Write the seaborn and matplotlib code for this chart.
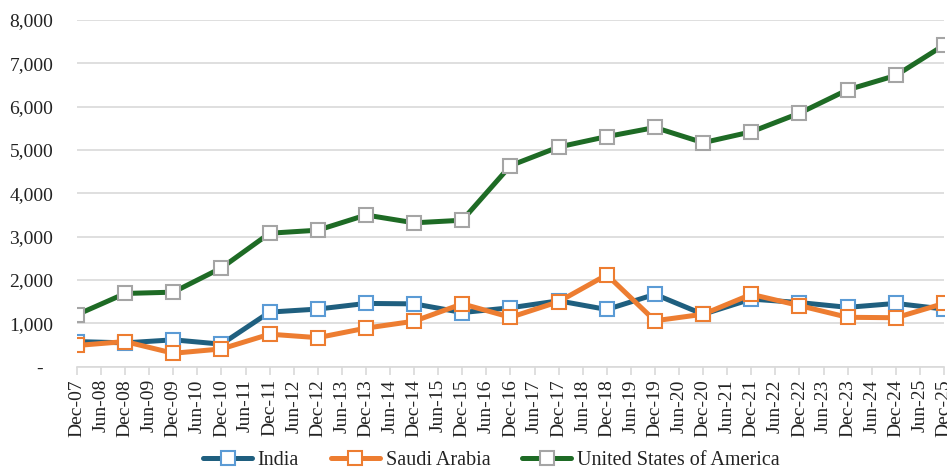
import matplotlib
matplotlib.use("Agg")
import matplotlib.pyplot as plt
import seaborn as sns
import pandas as pd
import numpy as np

# ---- data ----
categories = []
for yr in range(7, 26):
    categories.append(f"Dec-{yr:02d}")
    if yr < 25:
        categories.append(f"Jun-{yr+1:02d}")

dec_labels = [f"Dec-{yr:02d}" for yr in range(7, 26)]

india = [580, 550, 620, 520, 1260, 1330, 1460, 1450, 1250, 1360,
         1520, 1320, 1670, 1210, 1560, 1480, 1370, 1460, 1330]
saudi = [490, 580, 310, 410, 750, 670, 890, 1050, 1450, 1140,
         1500, 2120, 1060, 1210, 1670, 1410, 1140, 1130, 1460]
usa = [1200, 1690, 1720, 2280, 3080, 3150, 3500, 3320, 3380, 4640,
       5070, 5310, 5520, 5170, 5420, 5850, 6390, 6720, 7420]

series_names = ["India", "Saudi Arabia", "United States of America"]
y_ticks = [0, 1000, 2000, 3000, 4000, 5000, 6000, 7000, 8000]

# ---- styling ----
line_colors = {"India": "#1F5F7F", "Saudi Arabia": "#ED7D31",
               "United States of America": "#1E6B25"}
edge_colors = {"India": "#5B9BD5", "Saudi Arabia": "#ED7D31",
               "United States of America": "#A5A5A5"}

sns.set_theme(style="white")
plt.rcParams["font.family"] = ["Liberation Serif", "DejaVu Serif"]

fig = plt.figure(figsize=(9.47, 4.70), dpi=100)
ax = fig.add_axes([0.0813, 0.2198, 0.9155, 0.7376])

pos_lookup = {c: i for i, c in enumerate(categories)}
df = pd.DataFrame({
    "pos": [pos_lookup[d] for d in dec_labels] * 3,
    "value": india + saudi + usa,
    "series": sum([[n] * len(dec_labels) for n in series_names], []),
})

for name in series_names:
    sub = df[df["series"] == name]
    sns.lineplot(data=sub, x="pos", y="value", ax=ax, color=line_colors[name],
                 linewidth=3.6, marker="s", markersize=10,
                 markerfacecolor="white", markeredgecolor=edge_colors[name],
                 markeredgewidth=1.5, label=name, zorder=3)

ax.set_xlim(0, len(categories) - 1)
ax.set_ylim(0, 8000)
ax.set_xticks(range(len(categories)))
ax.set_xticklabels(categories, rotation=90, fontsize=14, color="#222222")
ax.set_yticks(y_ticks)
ax.set_yticklabels(["-  "] + [f"{v:,}" for v in y_ticks[1:]], fontsize=14, color="#222222")
ax.set_xlabel("")
ax.set_ylabel("")

ax.yaxis.grid(True, color="#D9D9D9", linewidth=1.2)
ax.xaxis.grid(False)
for s in ["left", "right", "top"]:
    ax.spines[s].set_visible(False)
ax.spines["bottom"].set_color("#D9D9D9")
ax.spines["bottom"].set_linewidth(1.2)
ax.tick_params(axis="x", which="major", bottom=True, length=6, width=1.2,
               color="#D9D9D9", pad=3)
ax.tick_params(axis="y", length=0, pad=17)

leg = ax.legend(loc="lower center", bbox_to_anchor=(0.478, -0.35), ncol=3,
                frameon=False, fontsize=14.5, handlelength=2.4,
                columnspacing=1.6, handletextpad=0.3)
for t in leg.get_texts():
    t.set_color("#222222")

fig.savefig("out.png", dpi=100)
